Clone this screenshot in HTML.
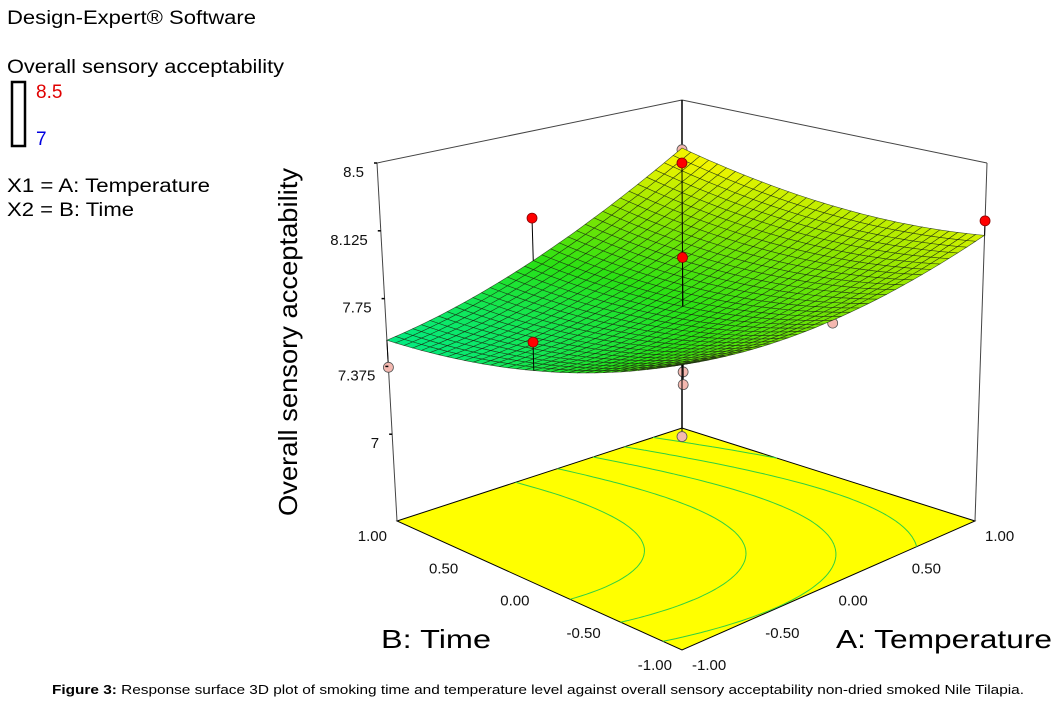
<!DOCTYPE html>
<html><head><meta charset="utf-8"><style>
body{margin:0;background:#fff;width:1059px;height:703px;overflow:hidden;font-family:"Liberation Sans",sans-serif}
svg{position:absolute;left:0;top:0}
</style></head><body>
<svg id="chart" width="1059" height="703">
<g font-size="19" fill="#000">
<text x="7" y="24" textLength="249" lengthAdjust="spacingAndGlyphs">Design-Expert® Software</text>
<text x="7" y="73" textLength="277" lengthAdjust="spacingAndGlyphs">Overall sensory acceptability</text>
<rect x="12" y="82" width="13" height="64" fill="none" stroke="#000" stroke-width="2.5"/>
<text x="36" y="98" fill="#e00000">8.5</text>
<text x="36" y="145" fill="#0000e0">7</text>
<text x="7" y="192" textLength="203" lengthAdjust="spacingAndGlyphs">X1 = A: Temperature</text>
<text x="7" y="216" textLength="127" lengthAdjust="spacingAndGlyphs">X2 = B: Time</text>
</g>
<g id="floor"></g>
<g id="box"></g>
<g id="stemsBelow"></g>
<g id="surface"></g>
<g id="points"></g>
<g id="labels"></g>
<text x="0" y="0" font-size="26" transform="translate(297,342) rotate(-90)" text-anchor="middle" textLength="348" lengthAdjust="spacingAndGlyphs">Overall sensory acceptability</text>
<text x="381" y="648" font-size="26" textLength="110" lengthAdjust="spacingAndGlyphs">B: Time</text>
<text x="836" y="648" font-size="26" textLength="216" lengthAdjust="spacingAndGlyphs">A: Temperature</text>
<text x="52" y="694" font-size="13" textLength="972" lengthAdjust="spacingAndGlyphs"><tspan font-weight="bold">Figure 3:</tspan> Response surface 3D plot of smoking time and temperature level against overall sensory acceptability non-dried smoked Nile Tilapia.</text>
</svg>
<script>
// model coefficients
const coefs = [7.75, 0.21, -0.08, 0.135, 0.11, 0.085]; // b0,bA,bB,bAB,bAA,bBB
const zTicks = [8.5, 8.125, 7.75, 7.375, 7];
const zTickLabels = ["8.5","8.125","7.75","7.375","7"];
const bTicks = [1, 0.5, 0, -0.5, -1];
const aTicks = [-1, -0.5, 0, 0.5, 1];
const tickLabels = ["1.00","0.50","0.00","-0.50","-1.00"];
const aTickLabels = ["-1.00","-0.50","0.00","0.50","1.00"];
const ptA = [0, -1, -1, 0, 0, 0, 0, 0, -1, 1, 0, 1, 1];
const ptB = [1, 0, 1, 0, 0, 0, 0, 0, -1, 0, -1, -1, 1];
const ptZ = [8.0, 7.80, 7.37, 8.54, 8.02, 7.72, 7.39, 7.32, 7.59, 8.01, 7.90, 8.18, 8.20];
const contourLevels = [7.7, 7.8, 7.9, 8.0, 8.1];
const Z0 = 6.52, Z1 = 8.5;

const NS = "http://www.w3.org/2000/svg";
const FL = {F:[682,650], R:[975,521], L:[397,521], K:[682,428]};
const TP = {F:[682,255], R:[987,163], L:[377,163], K:[682,100]};
function bil(c,u,v){
  return [0,1].map(i=>c.F[i]*(1-u)*(1-v)+c.R[i]*u*(1-v)+c.L[i]*(1-u)*v+c.K[i]*u*v);
}
function proj(A,B,z){
  const u=(A+1)/2, v=(B+1)/2, t=(z-Z0)/(Z1-Z0);
  const f=bil(FL,u,v), p=bil(TP,u,v);
  return [f[0]+(p[0]-f[0])*t, f[1]+(p[1]-f[1])*t];
}
function model(A,B){const c=coefs;return c[0]+c[1]*A+c[2]*B+c[3]*A*B+c[4]*A*A+c[5]*B*B;}
function el(tag,attrs,parent){const e=document.createElementNS(NS,tag);for(const k in attrs)e.setAttribute(k,attrs[k]);parent.appendChild(e);return e;}
function pts(a){return a.map(p=>p[0].toFixed(1)+","+p[1].toFixed(1)).join(" ");}
function color(z){
  const stops=[[7.5,[0,235,140]],[7.75,[40,225,20]],[7.95,[140,230,0]],[8.15,[240,245,0]]];
  if(z<=stops[0][0])return stops[0][1];
  for(let i=1;i<stops.length;i++){if(z<=stops[i][0]){const a=stops[i-1],b=stops[i],t=(z-a[0])/(b[0]-a[0]);return a[1].map((x,j)=>Math.round(x+(b[1][j]-x)*t));}}
  return stops[stops.length-1][1];
}
const floorG=document.getElementById('floor');
let fp=el('polygon',{points:pts([FL.L,FL.K,FL.R,FL.F]),fill:'#ffff00',stroke:'#000','stroke-width':1},floorG);


const N=60;
contourLevels.forEach(lv=>{
  let d="";
  for(let i=0;i<N;i++)for(let j=0;j<N;j++){
    const A0=-1+2*i/N,A1=-1+2*(i+1)/N,B0=-1+2*j/N,B1=-1+2*(j+1)/N;
    const c=[[A0,B0],[A1,B0],[A1,B1],[A0,B1]];
    const vals=c.map(p=>model(p[0],p[1])-lv);
    const cr=[];
    for(let k=0;k<4;k++){const a=vals[k],b=vals[(k+1)%4];if((a<0)!=(b<0)){const t=a/(a-b);const p=c[k],q=c[(k+1)%4];cr.push([p[0]+(q[0]-p[0])*t,p[1]+(q[1]-p[1])*t]);}}
    if(cr.length>=2){const p=proj(cr[0][0],cr[0][1],Z0),q=proj(cr[1][0],cr[1][1],Z0);d+="M"+p[0].toFixed(1)+","+p[1].toFixed(1)+"L"+q[0].toFixed(1)+","+q[1].toFixed(1);}
  }
  const c=el('path',{d:d,stroke:'#30d040','stroke-width':1,fill:'none'},floorG);
  
  
});
const boxG=document.getElementById('box');
[[TP.L,TP.K],[TP.K,TP.R],[TP.L,FL.L],[TP.R,FL.R]].forEach(s=>{
  const l=el('line',{x1:s[0][0],y1:s[0][1],x2:s[1][0],y2:s[1][1],stroke:'#444','stroke-width':1},boxG);
  
  
});
let bl=el('line',{x1:TP.K[0],y1:TP.K[1],x2:FL.K[0],y2:FL.K[1],stroke:'#000','stroke-width':1.5},boxG);


const lab=document.getElementById('labels');
zTicks.forEach((z,i)=>{
  const p=proj(-1,1,z);
  const tk=el('line',{x1:p[0]-3,y1:p[1],x2:p[0],y2:p[1],stroke:'#000','stroke-width':1.5},lab);
  
  
  const t=el('text',{x:p[0]-13,y:p[1]+14,'text-anchor':'end','font-size':15,fill:'#111'},lab);
  t.textContent=zTickLabels[i];
  
  
});
bTicks.forEach((b,i)=>{
  const p=proj(-1,b,Z0);
  const t=el('text',{x:p[0]-10,y:p[1]+20,'text-anchor':'end','font-size':15,fill:'#111'},lab);
  t.textContent=tickLabels[i];
  
  
});
aTicks.forEach((a,i)=>{
  const p=proj(a,-1,Z0);
  const t=el('text',{x:p[0]+10,y:p[1]+20,'text-anchor':'start','font-size':15,fill:'#111'},lab);
  t.textContent=aTickLabels[i];
  
  
});
const sg=document.getElementById('surface');
const M=34, quads=[];
for(let i=0;i<M;i++)for(let j=0;j<M;j++){
  const A0=-1+2*i/M,A1=-1+2*(i+1)/M,B0=-1+2*j/M,B1=-1+2*(j+1)/M;
  quads.push({d:A0+B0,A0,A1,B0,B1});
}
quads.sort((a,b)=>b.d-a.d);
quads.forEach(q=>{
  const c=[[q.A0,q.B0],[q.A1,q.B0],[q.A1,q.B1],[q.A0,q.B1]];
  const p=c.map(x=>proj(x[0],x[1],model(x[0],x[1])));
  const zc=model((q.A0+q.A1)/2,(q.B0+q.B1)/2);
  const col=color(zc);
  const e=el('polygon',{points:pts(p),fill:`rgb(${col})`,stroke:'#1a2a10','stroke-width':0.6,'stroke-opacity':0.8},sg);
  
  
});
const pg=document.getElementById('points');
const sb=document.getElementById('stemsBelow');
ptZ.forEach((z,i)=>{
  const zs=model(ptA[i],ptB[i]);
  const above=z>=zs;
  const p=proj(ptA[i],ptB[i],z), s=proj(ptA[i],ptB[i],zs);
  const st=el('line',{x1:p[0],y1:p[1],x2:s[0],y2:s[1],stroke:'#000','stroke-width':1},above?pg:sb);
  
  
  const c=el('circle',{cx:p[0],cy:p[1],r:5,fill:above?'#ff0000':'#f4b8b0',stroke:above?'#800':'#555','stroke-width':0.8},above?pg:sb);
  
  
});
</script>
</body></html>
